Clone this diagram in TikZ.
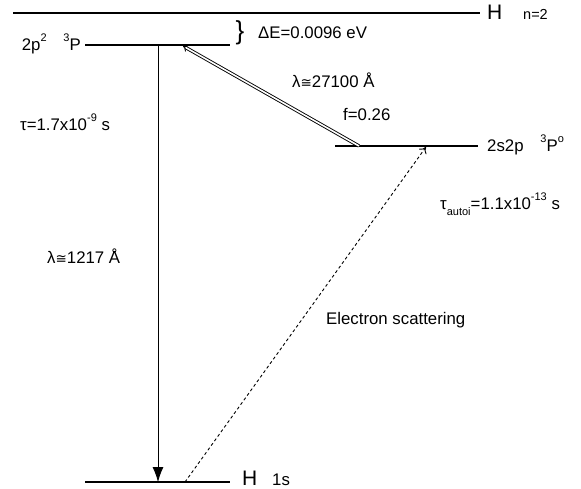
\documentclass[tikz,border=0pt]{standalone}
\usepackage{fontspec}
\setmainfont{Liberation Sans}
\newfontfamily\symf{DejaVu Sans}
\usetikzlibrary{arrows.meta}
\tikzset{
  level/.style={line width=1.8pt},
  lbl/.style={inner sep=0pt, font=\fontsize{16.8}{19}\selectfont},
  big/.style={inner sep=0pt, font=\fontsize{21}{24}\selectfont},
  small/.style={inner sep=0pt, font=\fontsize{14.5}{16}\selectfont},
}
\newcommand{\appr}{{\symf\fontsize{13.5}{16}\selectfont ≅}}
\newcommand{\hsup}[1]{\raisebox{0.55em}{\fontsize{11}{12}\selectfont #1}}
\begin{document}
\begin{tikzpicture}[x=1pt,y=-1pt]
\useasboundingbox (0,0) rectangle (581,489);
% level end points
\coordinate (nL) at (13,13);   \coordinate (nR) at (480,13);
\coordinate (pL) at (85,45);   \coordinate (pR) at (230,45);
\coordinate (sL) at (335,146); \coordinate (sR) at (478,146);
\coordinate (gL) at (85,482);  \coordinate (gR) at (230,482);
% transition end points
\coordinate (p1) at (158,45);  \coordinate (g1) at (158,482);
\coordinate (p2) at (183,46);  \coordinate (s2) at (359,146);
\coordinate (g3) at (185,482); \coordinate (s3) at (426,147);
% levels
\draw[level] (nL) -- (nR);
\draw[level] (pL) -- (pR);
\draw[level] (sL) -- (sR);
\draw[level] (gL) -- (gR);
% level labels
\node[big, anchor=base west] (hn) at (487,20) {H};
\node[small, anchor=base west] (n2) at (523,20) {n=2};
\node[lbl, anchor=base east] (pl) at (81,51) {2p\hsup{2}\hspace{1em}\hsup{3}P};
\node[lbl, anchor=base west] (sl) at (487,152) {2s2p\hspace{1em}\hsup{3}P\hsup{o}};
\node[big, anchor=base west] (h1) at (242,485.5) {H};
\node[lbl, anchor=base west] (s1) at (272,485.5) {1s};
% brace and splitting
\node[inner sep=0pt, font=\fontsize{26}{28}\selectfont, anchor=center] (br) at (240,33) {\}};
\node[lbl, anchor=base west] (de) at (258,39) {ΔE=0.0096 eV};
% transitions
\draw[line width=0.8pt, -{Latex[length=15pt,width=11pt]}] (p1) -- (g1);
\draw[line width=0.9pt, double, double distance=1.6pt, -{Implies[length=7pt]}] (s2) -- (p2);
\draw[line width=0.9pt, dash pattern=on 3pt off 2.6pt, -{To[length=6pt,width=9pt]}] (g3) -- (s3);
% transition labels
\node[lbl, anchor=base west] (l1) at (292,88) {λ\appr27100 Å};
\node[lbl, anchor=base west] (fv) at (343,121) {f=0.26};
\node[lbl, anchor=base west] (t1) at (20,131) {τ=1.7x10\hsup{-9} s};
\node[lbl, anchor=base west] (l2) at (47,263) {λ\appr1217 Å};
\node[lbl, anchor=base west] (t2) at (440,210) {τ\raisebox{-0.3em}{\fontsize{11}{12}\selectfont autoi}=1.1x10\hsup{-13} s};
\node[lbl, anchor=base west] (es) at (326,324) {Electron scattering};
\end{tikzpicture}
\end{document}
